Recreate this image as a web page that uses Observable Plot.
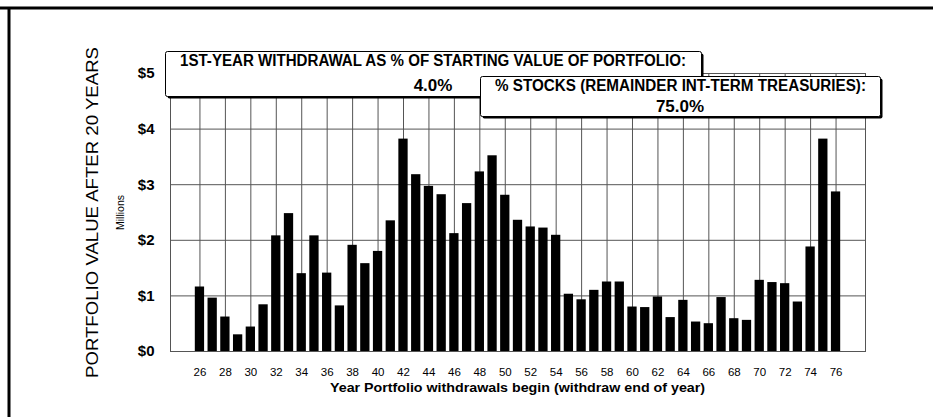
<!DOCTYPE html>
<html><head><meta charset="utf-8">
<script src="https://cdn.jsdelivr.net/npm/d3@7"></script>
<script src="https://cdn.jsdelivr.net/npm/@observablehq/plot@0.6"></script>
<style>
body{margin:0;background:#fff}
#chart{position:relative;width:933px;height:417px;overflow:hidden}
</style>
</head><body><div id="chart"></div>
<script>
// ---- data ----
const years = [26,27,28,29,30,31,32,33,34,35,36,37,38,39,40,41,42,43,44,45,46,47,48,49,50,
               51,52,53,54,55,56,57,58,59,60,61,62,63,64,65,66,67,68,69,70,71,72,73,74,75,76];
const values = [1.16,0.96,0.62,0.30,0.44,0.84,2.08,2.48,1.40,2.08,1.41,0.82,1.91,1.58,1.80,2.35,3.82,3.18,2.97,2.82,2.12,2.66,3.23,3.52,2.81,
                2.36,2.24,2.22,2.09,1.03,0.93,1.10,1.25,1.25,0.80,0.79,0.98,0.61,0.92,0.53,0.50,0.97,0.59,0.56,1.28,1.24,1.22,0.89,1.88,3.82,2.87];
const xTicks = [26,28,30,32,34,36,38,40,42,44,46,48,50,52,54,56,58,60,62,64,66,68,70,72,74,76];
const yTicks = [0,1,2,3,4,5];
const yTitle = "PORTFOLIO VALUE AFTER 20 YEARS";
const yUnit = "Millions";
const xTitle = "Year Portfolio withdrawals begin (withdraw end of year)";
const box1Lines = ["1ST-YEAR WITHDRAWAL AS % OF STARTING VALUE OF PORTFOLIO:", "4.0%"];
const box2Lines = ["% STOCKS (REMAINDER INT-TERM TREASURIES):", "75.0%"];

const table = years.map((y, i) => ({year: y, value: values[i]}));
const FONT = "'Liberation Sans', Arial, Helvetica, sans-serif";
const GRID = "#555";

const svg = Plot.plot({
  width: 933,
  height: 417,
  marginLeft: 170,
  marginRight: 68,
  marginTop: 73,
  marginBottom: 66,
  style: {fontFamily: FONT, color: "#000", background: "#fff", overflow: "visible"},
  x: {type: "band", domain: years, paddingInner: 0.27, paddingOuter: 1.95, label: null},
  y: {domain: [0, 5], label: null},
  marks: [
    Plot.gridX(xTicks, {stroke: GRID, strokeOpacity: 1, strokeWidth: 1}),
    Plot.gridY(yTicks, {stroke: GRID, strokeOpacity: 1, strokeWidth: 1}),
    Plot.frame({stroke: GRID, strokeWidth: 1}),
    Plot.barY(table, {x: "year", y: "value", fill: "#000"}),
    Plot.axisX(xTicks, {tickSize: 0, tickPadding: 16, fontSize: 11.5, label: null}),
    Plot.axisY(yTicks, {tickSize: 0, tickPadding: 16, fontSize: 15, fontWeight: "bold",
                        tickFormat: d => "$" + d, label: null})
  ]
});
document.getElementById("chart").appendChild(svg);

const s = d3.select(svg);
const g = s.append("g").attr("font-family", FONT).attr("fill", "#000").attr("text-anchor", "start");

// outer page border (top and left)
g.append("line").attr("x1", 0).attr("x2", 933).attr("y1", 8).attr("y2", 8)
  .attr("stroke", "#000").attr("stroke-width", 3);
g.append("line").attr("x1", 9).attr("x2", 9).attr("y1", 8).attr("y2", 417)
  .attr("stroke", "#000").attr("stroke-width", 3);

// y titles
g.append("text").attr("transform", "translate(98,212.5) rotate(-90)")
  .attr("text-anchor", "middle").attr("font-size", 17)
  .attr("textLength", 331).attr("lengthAdjust", "spacingAndGlyphs")
  .text(yTitle);
g.append("text").attr("transform", "translate(124,212.5) rotate(-90)")
  .attr("text-anchor", "middle").attr("font-size", 10.5)
  .text(yUnit);

// x title
g.append("text").attr("x", 517.5).attr("y", 392).attr("text-anchor", "middle")
  .attr("font-size", 13).attr("font-weight", "bold")
  .attr("textLength", 375).attr("lengthAdjust", "spacingAndGlyphs")
  .text(xTitle);

// annotation boxes
function box(x, y, w, h, lines, l1x, l1len, l2cx, base1, base2) {
  g.append("rect").attr("x", x + 2).attr("y", y + 2).attr("width", w).attr("height", h)
    .attr("rx", 2).attr("fill", "#000");
  g.append("rect").attr("x", x).attr("y", y).attr("width", w).attr("height", h)
    .attr("rx", 2).attr("fill", "#fff").attr("stroke", "#000").attr("stroke-width", 1);
  g.append("text").attr("x", l1x).attr("y", base1).attr("font-size", 16)
    .attr("font-weight", "bold").attr("text-anchor", "start")
    .attr("textLength", l1len).attr("lengthAdjust", "spacingAndGlyphs")
    .text(lines[0]);
  g.append("text").attr("x", l2cx).attr("y", base2).attr("font-size", 17)
    .attr("font-weight", "bold").attr("text-anchor", "middle")
    .text(lines[1]);
}
box(165.5, 51.5, 536, 45, box1Lines, 180, 506, 433, 65.5, 90.5);
box(480.5, 76.5, 400, 40, box2Lines, 495, 371, 680, 90.5, 112);
</script>
</body></html>
